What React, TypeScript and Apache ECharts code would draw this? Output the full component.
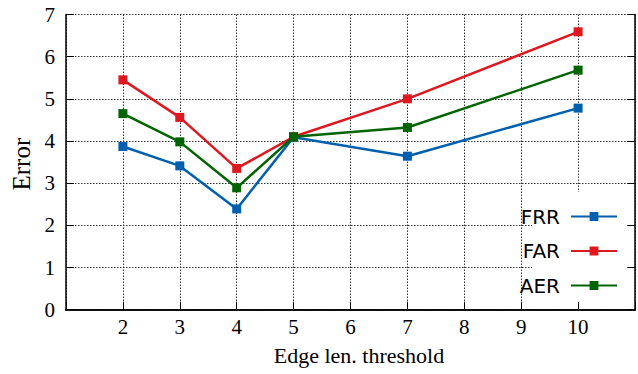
import React, { useEffect, useRef } from "react";
import * as echarts from "echarts";

const thresholds = [2, 3, 4, 5, 7, 10];
const frr = [3.87, 3.41, 2.39, 4.09, 3.64, 4.78];
const far = [5.45, 4.56, 3.35, 4.1, 5.0, 6.59];
const aer = [4.65, 3.98, 2.89, 4.1, 4.32, 5.68];
const seriesNames = ["FRR", "FAR", "AER"];
const seriesColors = ["#0060ad", "#dd181f", "#006400"];

const SERIF = "'Liberation Serif', 'Times New Roman', serif";
const SANS = "'DejaVu Sans', sans-serif";

export default function App() {
  const ref = useRef<HTMLDivElement>(null);
  useEffect(() => {
    if (!ref.current) return;
    const chart = echarts.init(ref.current, null, { renderer: "svg" });
    const values = [frr, far, aer];
    const gridStyle = { type: [1.5, 1.5] as any, color: "#333", width: 1 };
    chart.setOption({
      animation: false,
      grid: { left: 66, right: 3, top: 14.5, bottom: 64.3 },
      xAxis: [
        {
          type: "value",
          min: 1,
          max: 11,
          interval: 1,
          name: "Edge len. threshold",
          nameLocation: "middle",
          nameGap: 35,
          nameTextStyle: { fontFamily: SERIF, fontSize: 22, color: "#000", padding: [0, 0, 0, 17] },
          axisLine: { show: true, onZero: false, lineStyle: { color: "#000", width: 1.5 } },
          axisTick: { show: true, inside: true, length: 8, lineStyle: { color: "#000", width: 1 } },
          axisLabel: {
            fontFamily: SERIF,
            fontSize: 21,
            color: "#000",
            margin: 7,
            formatter: (v: number) => (v >= 2 && v <= 10 ? String(v) : ""),
          },
          splitLine: { show: true, lineStyle: gridStyle },
        },
        {
          type: "value",
          position: "top",
          min: 1,
          max: 11,
          interval: 1,
          axisLine: { show: true, lineStyle: { color: "#000", width: 1.5 } },
          axisTick: { show: false },
          axisLabel: { show: false },
          splitLine: { show: false },
        },
      ],
      yAxis: [
        {
          type: "value",
          min: 0,
          max: 7,
          interval: 1,
          name: "Error",
          nameLocation: "middle",
          nameGap: 31,
          nameTextStyle: { fontFamily: SERIF, fontSize: 25, color: "#000", padding: [0, 4, 0, 0] },
          axisLine: { show: true, onZero: false, lineStyle: { color: "#000", width: 1.5 } },
          axisTick: { show: true, inside: true, length: 8, lineStyle: { color: "#000", width: 1 } },
          axisLabel: { fontFamily: SERIF, fontSize: 21, color: "#000", margin: 11 },
          splitLine: { show: true, lineStyle: gridStyle },
        },
        {
          type: "value",
          position: "right",
          min: 0,
          max: 7,
          interval: 1,
          axisLine: { show: true, lineStyle: { color: "#000", width: 1.5 } },
          axisTick: { show: true, inside: true, length: 7, lineStyle: { color: "#000", width: 1 } },
          axisLabel: { show: false },
          splitLine: { show: false },
        },
      ],
      graphic: [
        {
          type: "rect",
          z: 1,
          shape: { x: 532, y: 192, width: 94, height: 110 },
          style: { fill: "#fff" },
          silent: true,
        },
      ],
      legend: {
        orient: "vertical",
        right: 20,
        top: 206.5,
        padding: 0,
        align: "right",
        itemWidth: 46,
        itemHeight: 11,
        itemGap: 14.5,
        data: seriesNames,
        textStyle: { fontFamily: SANS, fontSize: 20, color: "#000", padding: [0, 6, 0, 0] },
      },
      series: seriesNames.map((name, i) => ({
        name,
        type: "line",
        data: thresholds.map((t, j) => [t, values[i][j]]),
        symbol: "rect",
        symbolSize: 9,
        color: seriesColors[i],
        lineStyle: { width: 2.5, color: seriesColors[i] },
        itemStyle: { color: seriesColors[i] },
        z: 3 + i,
      })),
    });
    return () => chart.dispose();
  }, []);
  return <div ref={ref} style={{ width: 638, height: 374, position: "absolute", left: 0, top: 0 }} />;
}
